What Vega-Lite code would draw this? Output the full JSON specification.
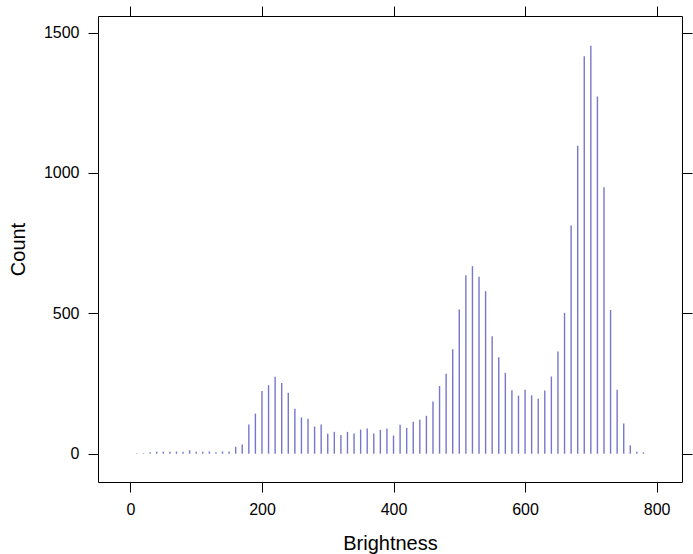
{
  "$schema": "https://vega.github.io/schema/vega-lite/v6.json",
  "width": 584,
  "height": 466,
  "autosize": "none",
  "padding": {"left": 98, "top": 16, "right": 11, "bottom": 72},
  "background": "white",
  "data": {"values": [
    {"b": 10, "count": 2}, {"b": 20, "count": 2}, {"b": 30, "count": 5}, {"b": 40, "count": 7},
    {"b": 50, "count": 7}, {"b": 60, "count": 7}, {"b": 70, "count": 8}, {"b": 80, "count": 7},
    {"b": 90, "count": 12}, {"b": 100, "count": 7}, {"b": 110, "count": 7}, {"b": 120, "count": 8},
    {"b": 130, "count": 5}, {"b": 140, "count": 8}, {"b": 150, "count": 8}, {"b": 160, "count": 25},
    {"b": 170, "count": 33}, {"b": 180, "count": 104}, {"b": 190, "count": 143}, {"b": 200, "count": 223},
    {"b": 210, "count": 244}, {"b": 220, "count": 274}, {"b": 230, "count": 252}, {"b": 240, "count": 217},
    {"b": 250, "count": 160}, {"b": 260, "count": 129}, {"b": 270, "count": 125}, {"b": 280, "count": 97},
    {"b": 290, "count": 104}, {"b": 300, "count": 71}, {"b": 310, "count": 78}, {"b": 320, "count": 67},
    {"b": 330, "count": 78}, {"b": 340, "count": 72}, {"b": 350, "count": 86}, {"b": 360, "count": 90},
    {"b": 370, "count": 72}, {"b": 380, "count": 85}, {"b": 390, "count": 90}, {"b": 400, "count": 65},
    {"b": 410, "count": 103}, {"b": 420, "count": 92}, {"b": 430, "count": 114}, {"b": 440, "count": 121},
    {"b": 450, "count": 135}, {"b": 460, "count": 186}, {"b": 470, "count": 241}, {"b": 480, "count": 285},
    {"b": 490, "count": 372}, {"b": 500, "count": 514}, {"b": 510, "count": 636}, {"b": 520, "count": 668},
    {"b": 530, "count": 630}, {"b": 540, "count": 579}, {"b": 550, "count": 418}, {"b": 560, "count": 344},
    {"b": 570, "count": 288}, {"b": 580, "count": 226}, {"b": 590, "count": 207}, {"b": 600, "count": 228},
    {"b": 610, "count": 208}, {"b": 620, "count": 196}, {"b": 630, "count": 225}, {"b": 640, "count": 275},
    {"b": 650, "count": 364}, {"b": 660, "count": 502}, {"b": 670, "count": 813}, {"b": 680, "count": 1097},
    {"b": 690, "count": 1416}, {"b": 700, "count": 1453}, {"b": 710, "count": 1272}, {"b": 720, "count": 949},
    {"b": 730, "count": 512}, {"b": 740, "count": 228}, {"b": 750, "count": 108}, {"b": 760, "count": 30},
    {"b": 770, "count": 7}, {"b": 780, "count": 5}
  ]},
  "layer": [
    {
      "mark": {"type": "rule", "stroke": "#7676cc", "strokeWidth": 1.4},
      "encoding": {
        "x": {"field": "b", "type": "quantitative",
              "scale": {"domain": [-49.3, 838.6], "nice": false, "zero": false},
              "axis": {"orient": "bottom", "values": [0, 200, 400, 600, 800], "format": "d", "title": "Brightness",
                       "titleBaseline": "alphabetic", "titleY": 67, "titleX": 292, "titleAlign": "center"}},
        "y": {"field": "count", "type": "quantitative",
              "scale": {"domain": [-100.7, 1559], "nice": false, "zero": false},
              "axis": {"orient": "left", "values": [0, 500, 1000, 1500], "format": "d", "title": "Count",
                       "titleBaseline": "alphabetic", "titleAngle": -90, "titleX": -74, "titleY": 233, "titleAlign": "center"}},
        "y2": {"datum": 0}
      }
    },
    {
      "mark": {"type": "rule", "strokeOpacity": 0},
      "encoding": {
        "x": {"field": "b", "type": "quantitative",
              "axis": {"orient": "top", "values": [0, 200, 400, 600, 800], "labels": false, "title": null}},
        "y": {"field": "count", "type": "quantitative",
              "axis": {"orient": "right", "values": [0, 500, 1000, 1500], "labels": false, "title": null}},
        "y2": {"datum": 0}
      }
    }
  ],
  "resolve": {"axis": {"x": "independent", "y": "independent"}},
  "config": {
    "view": {"stroke": "black", "strokeWidth": 1},
    "axis": {
      "domain": false,
      "grid": false,
      "ticks": true,
      "tickColor": "black",
      "tickWidth": 1,
      "tickSize": 10,
      "labelFont": "Liberation Sans",
      "labelFontSize": 16,
      "labelColor": "black",
      "labelPadding": 9,
      "titleFont": "Liberation Sans",
      "titleFontSize": 20,
      "titleFontWeight": "normal",
      "titleColor": "black"
    }
  }
}
